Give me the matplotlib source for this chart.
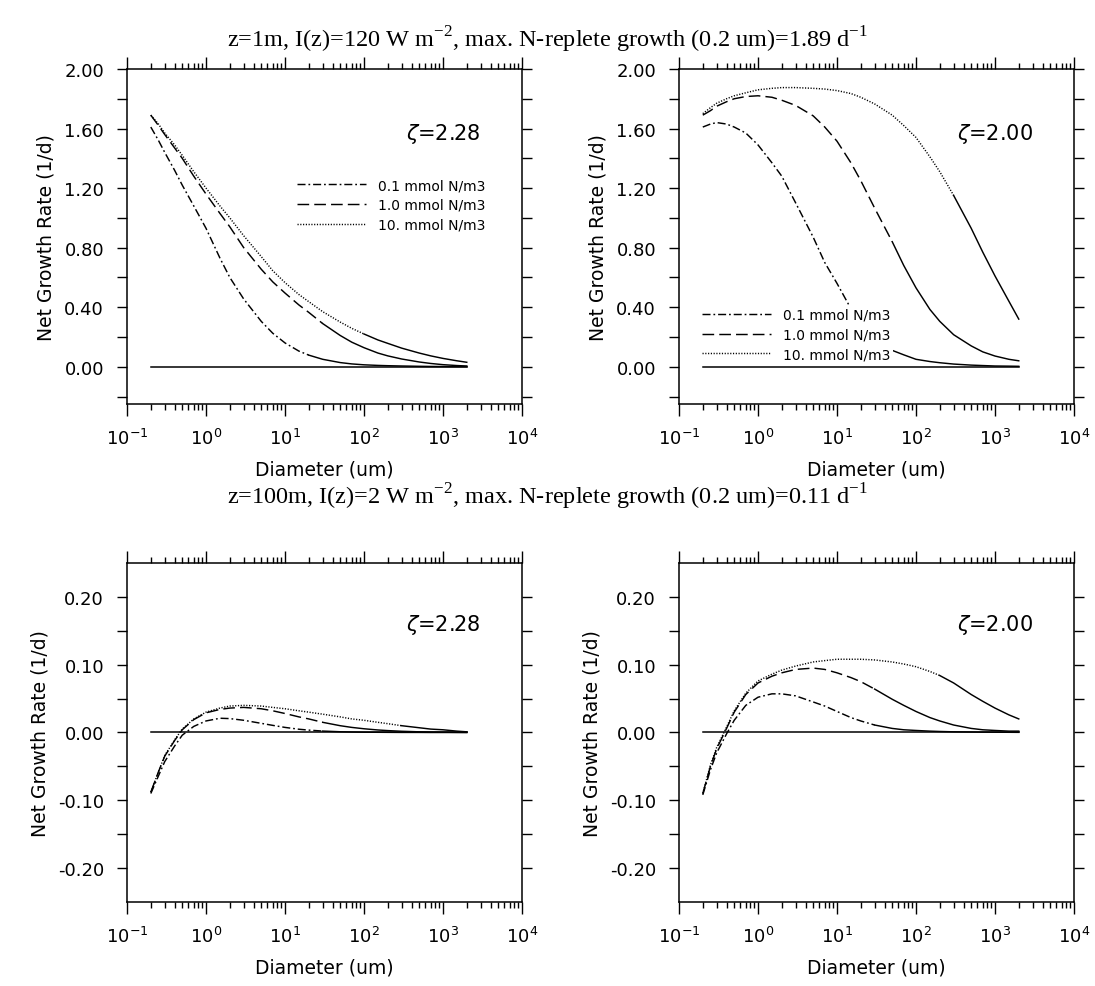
import matplotlib

matplotlib.use("Agg")
import matplotlib.pyplot as plt
import numpy as np
from matplotlib.ticker import FixedLocator, FormatStrFormatter, LogLocator, NullFormatter

# cell diameter (um) at which the curves were read
DIAMETER = [0.2, 0.25, 0.3, 0.4, 0.5, 0.7, 1, 1.5, 2, 3, 5, 7, 10, 15, 20, 30,
            50, 70, 100, 150, 200, 300, 500, 700, 1000, 1500, 2000]

NITRATE_LABELS = ["0.1 mmol N/m3", "1.0 mmol N/m3", "10. mmol N/m3"]

# z=1m, zeta=2.28
TL_N01 = [1.61, 1.52, 1.44, 1.32, 1.22, 1.08, 0.93, 0.73, 0.60, 0.455, 0.305, 0.225, 0.16, 0.105,
          0.078, 0.05, 0.028, 0.019, 0.013, 0.009, 0.007, 0.005, 0.003, 0.002, 0.0015, 0.001, 0.001]
TL_N1 = [1.69, 1.62, 1.56, 1.47, 1.40, 1.28, 1.16, 1.03, 0.94, 0.80, 0.655, 0.57, 0.495, 0.415,
         0.365, 0.29, 0.21, 0.165, 0.128, 0.092, 0.073, 0.052, 0.032, 0.022, 0.014, 0.008, 0.005]
TL_N10 = [1.69, 1.63, 1.57, 1.49, 1.42, 1.31, 1.20, 1.08, 1.00, 0.88, 0.74, 0.645, 0.565, 0.485,
          0.437, 0.37, 0.30, 0.258, 0.22, 0.18, 0.157, 0.125, 0.092, 0.073, 0.056, 0.04, 0.03]

# z=1m, zeta=2.00
TR_N01 = [1.61, 1.63, 1.64, 1.63, 1.61, 1.57, 1.49, 1.37, 1.28, 1.10, 0.87, 0.70, 0.56, 0.39,
          0.30, 0.20, 0.11, 0.08, 0.05, 0.035, 0.027, 0.018, 0.011, 0.008, 0.005, 0.004, 0.003]
TR_N1 = [1.69, 1.72, 1.75, 1.78, 1.80, 1.815, 1.82, 1.81, 1.79, 1.755, 1.685, 1.61, 1.515, 1.37,
         1.25, 1.065, 0.84, 0.68, 0.53, 0.385, 0.305, 0.215, 0.14, 0.10, 0.072, 0.05, 0.04]
TR_N10 = [1.70, 1.74, 1.77, 1.80, 1.82, 1.84, 1.86, 1.87, 1.875, 1.875, 1.87, 1.865, 1.855, 1.835,
          1.81, 1.765, 1.69, 1.62, 1.54, 1.41, 1.31, 1.15, 0.93, 0.77, 0.61, 0.44, 0.32]

# z=100m, zeta=2.28
BL_N01 = [-0.090, -0.064, -0.043, -0.020, -0.004, 0.009, 0.017, 0.021, 0.0205, 0.018, 0.0135,
          0.0105, 0.0075, 0.0048, 0.0035, 0.0021, 0.0011, 0.0007, 0.0004, 0.0003, 0.0002, 0.0001,
          0.0001, 0.0, 0.0, 0.0, 0.0]
BL_N1 = [-0.088, -0.058, -0.035, -0.012, 0.004, 0.019, 0.029, 0.034, 0.036, 0.037, 0.035, 0.032,
         0.028, 0.023, 0.020, 0.015, 0.010, 0.0075, 0.0055, 0.0037, 0.0028, 0.0018, 0.001, 0.0006,
         0.0004, 0.0002, 0.0001]
BL_N10 = [-0.088, -0.058, -0.034, -0.011, 0.005, 0.020, 0.030, 0.036, 0.039, 0.040, 0.039, 0.037,
          0.035, 0.032, 0.030, 0.027, 0.023, 0.020, 0.018, 0.015, 0.013, 0.010, 0.007, 0.005,
          0.004, 0.002, 0.001]

# z=100m, zeta=2.00
BR_N01 = [-0.092, -0.055, -0.030, -0.002, 0.018, 0.040, 0.052, 0.057, 0.057, 0.054, 0.045, 0.039,
          0.031, 0.022, 0.017, 0.011, 0.006, 0.004, 0.003, 0.002, 0.0015, 0.001, 0.0007, 0.0005,
          0.0004, 0.0003, 0.0002]
BR_N1 = [-0.090, -0.050, -0.024, 0.006, 0.030, 0.056, 0.073, 0.083, 0.088, 0.093, 0.095, 0.093,
         0.088, 0.081, 0.075, 0.064, 0.049, 0.040, 0.031, 0.022, 0.017, 0.011, 0.006, 0.004,
         0.003, 0.002, 0.002]
BR_N10 = [-0.090, -0.048, -0.022, 0.008, 0.032, 0.058, 0.076, 0.086, 0.092, 0.098, 0.104, 0.106,
          0.108, 0.108, 0.108, 0.107, 0.104, 0.101, 0.097, 0.090, 0.084, 0.073, 0.056, 0.046,
          0.036, 0.026, 0.020]

ZETA_LEFT = "2.28"
ZETA_RIGHT = "2.00"
TOP_TITLE = (r"z=1m, I(z)=120 W m$^{\mathdefault{-2}}$, max. N-replete growth (0.2 um)=1.89 "
             r"d$^{\mathdefault{-1}}$")
BOTTOM_TITLE = (r"z=100m, I(z)=2 W m$^{\mathdefault{-2}}$, max. N-replete growth (0.2 um)=0.11 "
                r"d$^{\mathdefault{-1}}$")

# the old plot package draws the flat tails of its dashed lines solid
SOLID_FROM_TL = [20, 30, 100]
SOLID_FROM_TR = [20, 50, 300]
SOLID_FROM_BL = [30, 30, 300]
SOLID_FROM_BR = [30, 30, 200]

DASHES = [(5.5, 2.0, 1.2, 2.0), (8.0, 3.5), (0.8, 1.1)]
LINE_WIDTH = 1.05

plt.rcParams["font.family"] = ["DejaVu Sans"]

LEFT_X, RIGHT_X, PANEL_W = 0.1160, 0.6201, 0.3607
TOP_Y, TOP_H = 0.5897, 0.3394
BOT_Y, BOT_H = 0.0851, 0.3435


def draw_curve(ax, values, dashes, solid_from, label=None):
    d = np.asarray(DIAMETER, dtype=float)
    v = np.asarray(values, dtype=float)
    head = d <= solid_from
    tail = d >= solid_from
    ax.plot(d[head], v[head], color="black", lw=LINE_WIDTH, dashes=dashes, label=label,
            dash_capstyle="butt")
    ax.plot(d[tail], v[tail], color="black", lw=LINE_WIDTH)


def style_axes(ax, ylim, major, minor):
    ax.set_xscale("log")
    ax.set_xlim(0.1, 1e4)
    ax.set_ylim(*ylim)
    ax.xaxis.set_major_locator(LogLocator(base=10, numticks=12))
    ax.xaxis.set_minor_locator(LogLocator(base=10, subs=np.arange(2, 10), numticks=12))
    ax.xaxis.set_minor_formatter(NullFormatter())
    ax.yaxis.set_major_locator(FixedLocator(major))
    ax.yaxis.set_minor_locator(FixedLocator(minor))
    ax.yaxis.set_major_formatter(FormatStrFormatter("%.2f"))
    ax.tick_params(which="both", direction="out", top=True, right=True, width=1.0,
                   labelsize=13, color="black")
    ax.tick_params(axis="x", which="major", length=8.5, pad=9)
    ax.tick_params(axis="x", which="minor", length=4.3)
    ax.tick_params(axis="y", which="both", length=7.5, pad=9)
    for spine in ax.spines.values():
        spine.set_linewidth(1.1)
    ax.set_xlabel("Diameter (um)", fontsize=13.5, labelpad=8)
    ax.set_ylabel("Net Growth Rate (1/d)", fontsize=13.5, labelpad=6)


def draw_panel(rect, series, solid_from, zeta, ylim, major, minor, zeta_y, legend_anchor=None):
    ax = fig.add_axes(rect)
    # zero line stays above the legend patch
    ax.plot(DIAMETER, np.zeros(len(DIAMETER)), color="black", lw=1.1, zorder=6)
    for values, dashes, start, label in zip(series, DASHES, solid_from, NITRATE_LABELS):
        draw_curve(ax, values, dashes, start, label)
    style_axes(ax, ylim, major, minor)
    ax.text(0.896, zeta_y, r"$\zeta$=" + zeta, transform=ax.transAxes, ha="right",
            va="center", fontsize=15)
    if legend_anchor is not None:
        leg = ax.legend(loc="upper left", bbox_to_anchor=legend_anchor, fontsize=10,
                        handlelength=5.0, handletextpad=0.85, labelspacing=0.4,
                        borderpad=0.15, borderaxespad=0.0, frameon=True, fancybox=False)
        leg.get_frame().set_facecolor("white")
        leg.get_frame().set_edgecolor("none")
        leg.get_frame().set_alpha(1.0)
    return ax


fig = plt.figure(figsize=(10.95, 9.87), dpi=100)

top_major = [0.0, 0.4, 0.8, 1.2, 1.6, 2.0]
top_minor = [-0.2, 0.2, 0.6, 1.0, 1.4, 1.8]
bot_major = [-0.2, -0.1, 0.0, 0.1, 0.2]
bot_minor = [-0.15, -0.05, 0.05, 0.15]

draw_panel([LEFT_X, TOP_Y, PANEL_W, TOP_H], [TL_N01, TL_N1, TL_N10], SOLID_FROM_TL,
           ZETA_LEFT, (-0.25, 2.0), top_major, top_minor, 0.81, legend_anchor=(0.425, 0.68))
draw_panel([RIGHT_X, TOP_Y, PANEL_W, TOP_H], [TR_N01, TR_N1, TR_N10], SOLID_FROM_TR,
           ZETA_RIGHT, (-0.25, 2.0), top_major, top_minor, 0.81, legend_anchor=(0.053, 0.293))
draw_panel([LEFT_X, BOT_Y, PANEL_W, BOT_H], [BL_N01, BL_N1, BL_N10], SOLID_FROM_BL,
           ZETA_LEFT, (-0.25, 0.25), bot_major, bot_minor, 0.82)
draw_panel([RIGHT_X, BOT_Y, PANEL_W, BOT_H], [BR_N01, BR_N1, BR_N10], SOLID_FROM_BR,
           ZETA_RIGHT, (-0.25, 0.25), bot_major, bot_minor, 0.82)

fig.text(0.5, 0.9595, TOP_TITLE, ha="center", va="center", fontsize=17.5,
         family="Liberation Serif")
fig.text(0.5, 0.4965, BOTTOM_TITLE, ha="center", va="center", fontsize=17.5,
         family="Liberation Serif")

fig.savefig("out.png", dpi=100, facecolor="white")
plt.close(fig)
